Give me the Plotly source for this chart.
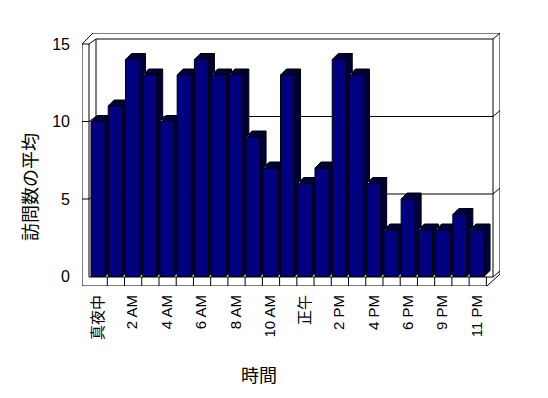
import plotly.graph_objects as go

# ---- data ----
hours = ["真夜中", "1 AM", "2 AM", "3 AM", "4 AM", "5 AM", "6 AM", "7 AM", "8 AM", "9 AM",
         "10 AM", "11 AM", "正午", "1 PM", "2 PM", "3 PM", "4 PM", "5 PM", "6 PM", "8 PM",
         "9 PM", "10 PM", "11 PM"]
visits = [10, 11, 14, 13, 10, 13, 14, 13, 13, 9, 7, 13, 6, 7, 14, 13, 6, 3, 5, 3, 3, 4, 3]
y_ticks = [0, 5, 10, 15]
x_title = "時間"
y_title = "訪問数の平均"

# ---- geometry (page pixels) ----
W, H = 548, 398
OFF = 8                                  # default body margin of the page
L, R, T, B = 82, 500, 33, 286          # plot area in page pixels
X0, XU = 98.0, 17.23                     # pixel of category 0, px per category
Y0, YU = 276.5, 15.5                     # pixel of value 0, px per unit

def DX(px):
    return (px - X0) / XU

def DY(py):
    return (Y0 - py) / YU

hw = 7.0 / XU
ddx = 6.0 / XU
ddy = 6.0 / YU

FONT = "Liberation Sans, Arial, Noto Sans CJK JP, sans-serif"
FRONT = "#000080"
SHADE = "#00003c"

fig = go.Figure()

# side + top faces
sx, sy = [], []
for i, v in enumerate(visits):
    sx += [i + hw, i + hw + ddx, i + hw + ddx, i + hw, i + hw, None]
    sy += [0, ddy, v + ddy, v, 0, None]
    sx += [i - hw, i - hw + ddx, i + hw + ddx, i + hw, i - hw, None]
    sy += [v, v + ddy, v + ddy, v, v, None]
fig.add_trace(go.Scatter(x=sx, y=sy, mode="lines", fill="toself", fillcolor=SHADE,
                         line=dict(color="black", width=1), hoverinfo="skip", showlegend=False))

# front faces
fx, fy = [], []
for i, v in enumerate(visits):
    fx += [i - hw, i - hw, i + hw, i + hw, i - hw, None]
    fy += [0, v, v, 0, 0, None]
fig.add_trace(go.Scatter(x=fx, y=fy, mode="lines", fill="toself", fillcolor=FRONT,
                         line=dict(color="black", width=1), hoverinfo="skip", showlegend=False))

# ---- walls / floor decoration ----
segs = [
    ((82, 44), (82, 286)),
    ((89, 44), (89, 277)),
    ((96, 39), (96, 277)),
    ((82, 44), (89, 44)),
    ((82, 44), (93, 33)),
    ((89, 44), (96, 39)),
    ((93, 33), (500, 33)),
    ((96, 39), (493, 39)),
    ((493, 39), (500, 33)),
    ((493, 39), (493, 277)),
    ((500, 33), (500, 274)),
    ((89, 277), (493, 277)),
    ((82, 286), (487, 286)),
    ((487, 286), (500, 274)),
    ((493, 277), (500, 271)),
]
for t in y_ticks[1:-1]:
    fyp = Y0 - YU * t
    segs += [((96, fyp - 5), (493, fyp - 5)),
             ((493, fyp - 5), (500, fyp - 11)),
             ((82, fyp), (89, fyp)),
             ((89, fyp), (96, fyp - 5))]
shapes = []
for (a, b) in segs:
    shapes.append(dict(type="line", xref="x", yref="y",
                       x0=DX(a[0]), y0=DY(a[1]), x1=DX(b[0]), y1=DY(b[1]),
                       line=dict(color="black", width=1), layer="below"))
for k in range(len(hours)):
    xb = k + 0.54
    shapes.append(dict(type="line", xref="x", yref="y",
                       x0=xb, y0=DY(277), x1=xb, y1=DY(286),
                       line=dict(color="black", width=1), layer="below"))

fig.update_layout(
    width=W, height=H,
    margin=dict(l=L - OFF, r=W - (R - OFF), t=T - OFF, b=H - (B - OFF), pad=0),
    paper_bgcolor="white", plot_bgcolor="white",
    shapes=shapes,
    showlegend=False,
    font=dict(family=FONT, size=15, color="black"),
    xaxis=dict(range=[DX(L), DX(R)], showgrid=False, zeroline=False, showline=False,
               tickmode="array", tickvals=list(range(0, len(hours), 2)),
               ticktext=hours[::2], tickangle=-90, ticks="", ticklabelstandoff=5,
               tickfont=dict(family=FONT, size=15, color="black"), fixedrange=True),
    yaxis=dict(range=[DY(B), DY(T)], showgrid=False, zeroline=False, showline=False,
               tickmode="array", tickvals=y_ticks, ticks="", ticklabelstandoff=11,
               tickfont=dict(family=FONT, size=16, color="black"), fixedrange=True),
    annotations=[
        dict(text=x_title, xref="paper", yref="paper",
             x=(259 - L) / (R - L), y=(B - 376) / (B - T), xanchor="center", yanchor="middle",
             showarrow=False, font=dict(family=FONT, size=18, color="black")),
        dict(text=y_title, xref="paper", yref="paper", textangle=-90,
             x=(31 - L) / (R - L), y=(B - 187) / (B - T), xanchor="center", yanchor="middle",
             showarrow=False, font=dict(family=FONT, size=18, color="black")),
    ],
)

fig.write_html("out.html")
